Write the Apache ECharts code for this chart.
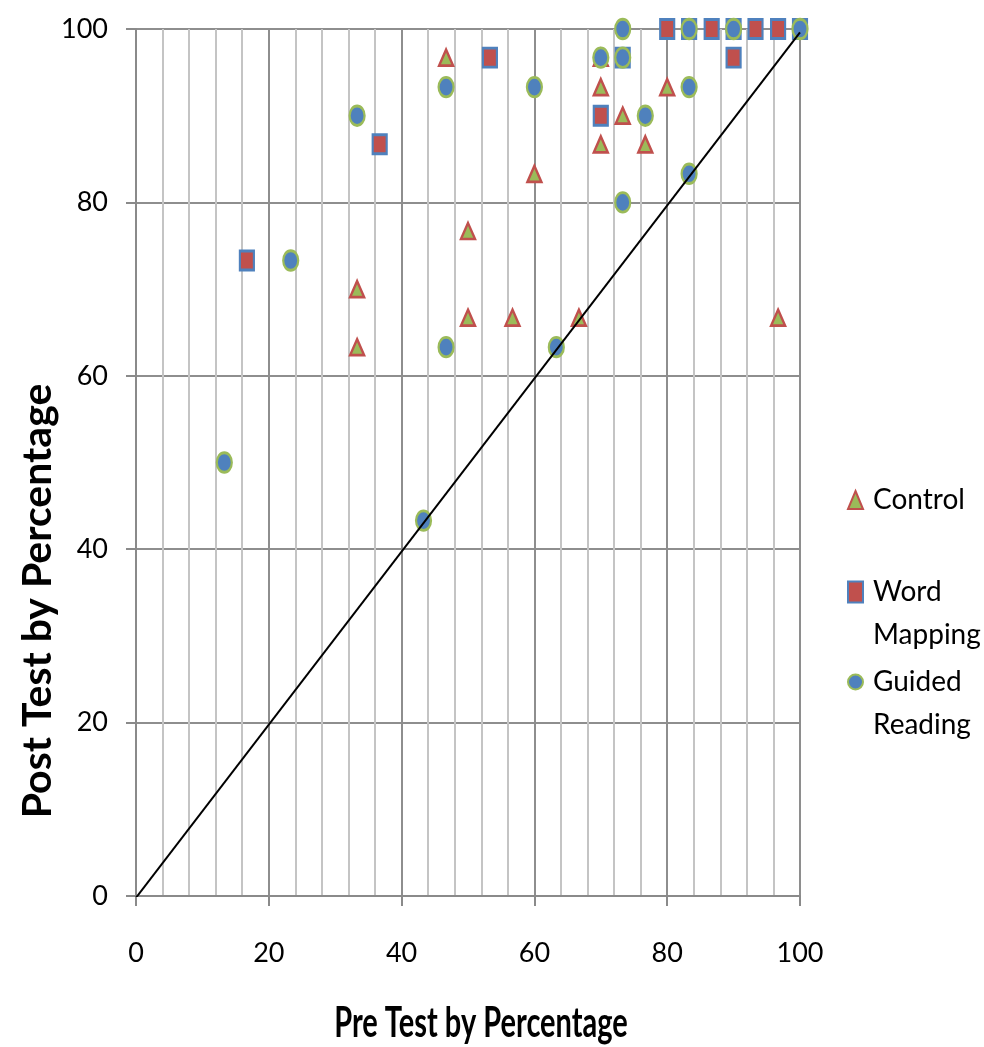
<!DOCTYPE html>
<html>
<head>
<meta charset="utf-8">
<script src="https://cdn.jsdelivr.net/npm/echarts@6/dist/echarts.min.js"></script>
<style>
html,body{margin:0;padding:0;background:#fff;}
#chart{width:984px;height:1047px;}
</style>
</head>
<body>
<div id="chart"></div>
<script>
var FONT = "Lato, 'Open Sans', 'Liberation Sans', sans-serif";

var seriesNames = ['Control', 'Word Mapping', 'Guided Reading'];
var seriesSymbols = ['triangle', 'rect', 'circle'];
var xTickValues = [0, 20, 40, 60, 80, 100];
var yTickValues = [0, 20, 40, 60, 80, 100];

var controlData = [
  [46.7, 96.7], [70, 96.7], [70, 93.3], [80, 93.3], [73.3, 90], [70, 86.7],
  [76.7, 86.7], [60, 83.3], [50, 76.7], [33.3, 70], [33.3, 63.3], [50, 66.7],
  [56.7, 66.7], [66.7, 66.7], [96.7, 66.7]
];
var wordMappingData = [
  [16.7, 73.3], [36.7, 86.7], [53.3, 96.7], [70, 90], [73.3, 96.7], [90, 96.7],
  [80, 100], [83.3, 100], [86.7, 100], [90, 100], [93.3, 100], [96.7, 100], [100, 100]
];
var guidedReadingData = [
  [13.3, 50], [23.3, 73.3], [33.3, 90], [43.3, 43.3], [46.7, 93.3], [46.7, 63.3],
  [60, 93.3], [63.3, 63.3], [70, 96.7], [73.3, 100], [73.3, 96.7], [73.3, 80],
  [76.7, 90], [83.3, 93.3], [83.3, 83.3], [83.3, 100], [90, 100], [100, 100]
];
var refLine = [[0, -0.2], [100, 99.6]];

var chart = echarts.init(document.getElementById('chart'));

function legendCfg(idx, top, fmt, h) {
  return {
    show: true,
    orient: 'vertical',
    left: 847,
    top: top,
    padding: 0,
    itemWidth: 15,
    itemHeight: h,
    symbolKeepAspect: false,
    data: [{ name: seriesNames[idx], icon: seriesSymbols[idx] }],
    selectedMode: false,
    formatter: fmt,
    textStyle: {
      fontFamily: FONT,
      fontSize: 28,
      color: '#000',
      lineHeight: 43,
      padding: [0, 0, 0, 5]
    }
  };
}

var option = {
  backgroundColor: '#fff',
  animation: false,
  grid: { left: 136, right: 184, top: 29, bottom: 151, containLabel: false },
  legend: [
    legendCfg(0, 478.5, function () { return 'Control'; }, 18),
    legendCfg(1, 527.5, function () { return '\nWord\nMapping'; }, 21),
    legendCfg(2, 617.5, function () { return '\nGuided\nReading'; }, 21)
  ],
  xAxis: {
    type: 'value',
    min: xTickValues[0],
    max: xTickValues[xTickValues.length - 1],
    interval: 20,
    axisLine: { show: true, lineStyle: { color: '#8a8a8a', width: 2 } },
    axisTick: { show: true, inside: false, length: 10, lineStyle: { color: '#8a8a8a', width: 2 } },
    axisLabel: { margin: 44, fontFamily: FONT, fontSize: 27, color: '#000' },
    splitLine: { show: true, lineStyle: { color: '#8e8e8e', width: 2 } },
    minorTick: { show: false, splitNumber: 5 },
    minorSplitLine: { show: true, lineStyle: { color: '#c4c4c4', width: 2 } }
  },
  yAxis: {
    type: 'value',
    min: yTickValues[0],
    max: yTickValues[yTickValues.length - 1],
    interval: 20,
    axisLine: { show: true, lineStyle: { color: '#8a8a8a', width: 2 } },
    axisTick: { show: true, inside: false, length: 10, lineStyle: { color: '#8a8a8a', width: 2 } },
    axisLabel: { margin: 28, fontFamily: FONT, fontSize: 27, color: '#000' },
    splitLine: { show: true, lineStyle: { color: '#8e8e8e', width: 2 } }
  },
  graphic: [
    {
      type: 'text',
      x: 481, y: 1023,
      scaleY: 1.45,
      style: {
        text: 'Pre Test by Percentage',
        x: 0, y: 0,
        align: 'center', verticalAlign: 'middle',
        font: 'bold 29px ' + FONT,
        fill: '#000'
      }
    },
    {
      type: 'text',
      x: 38, y: 601,
      rotation: Math.PI / 2,
      style: {
        text: 'Post Test by Percentage',
        x: 0, y: 0,
        align: 'center', verticalAlign: 'middle',
        font: 'bold 41px ' + FONT,
        fill: '#000'
      }
    }
  ],
  series: [
    {
      name: seriesNames[0],
      type: 'scatter',
      symbol: seriesSymbols[0],
      symbolSize: [14, 16],
      symbolKeepAspect: false,
      z: 2,
      itemStyle: { color: '#9BBB59', borderColor: '#C0504D', borderWidth: 2.5, opacity: 1 },
      data: controlData
    },
    {
      name: seriesNames[1],
      type: 'scatter',
      symbol: seriesSymbols[1],
      symbolSize: [14, 19],
      symbolKeepAspect: false,
      z: 3,
      itemStyle: { color: '#C0504D', borderColor: '#4F81BD', borderWidth: 2.5, opacity: 1 },
      data: wordMappingData
    },
    {
      name: seriesNames[2],
      type: 'scatter',
      symbol: seriesSymbols[2],
      symbolSize: [15, 19.5],
      symbolKeepAspect: false,
      z: 4,
      itemStyle: { color: '#4F81BD', borderColor: '#9BBB59', borderWidth: 2.5, opacity: 1 },
      data: guidedReadingData
    },
    {
      name: 'ref',
      type: 'line',
      data: refLine,
      showSymbol: false,
      symbol: 'none',
      silent: true,
      z: 5,
      lineStyle: { color: '#000', width: 2 }
    }
  ]
};
chart.setOption(option);
</script>
</body>
</html>
